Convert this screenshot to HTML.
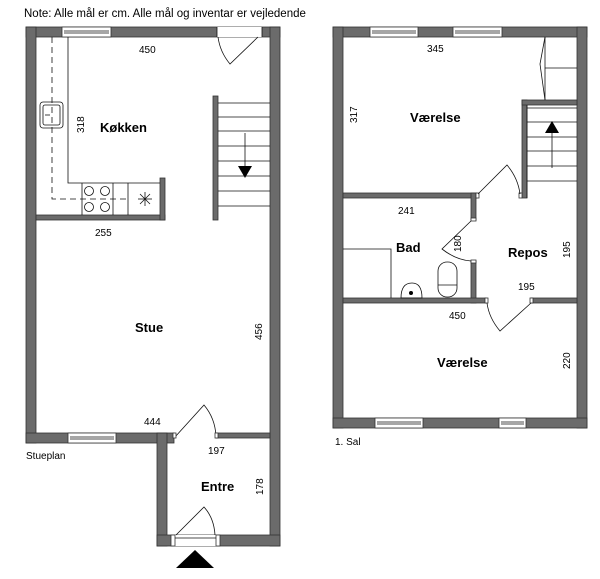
<!DOCTYPE html>
<html><head><meta charset="utf-8"><style>
html,body{margin:0;padding:0;background:#fff;width:600px;height:579px;overflow:hidden}
svg{display:block}
text{font-family:"Liberation Sans",sans-serif;fill:#000}
.w{fill:#6b6b6b;stroke:#333;stroke-width:0.8}
.l{stroke:#111;stroke-width:0.8;fill:none}
.win{fill:#fff;stroke:#333;stroke-width:0.8}
.b{font-weight:bold;font-size:13px}
.s{font-size:10px}
</style></head><body>
<svg width="600" height="579" viewBox="0 0 600 579" xmlns="http://www.w3.org/2000/svg">
<text x="24" y="17" font-size="11.5">Note: Alle mål er cm. Alle mål og inventar er vejledende</text>

<!-- LEFT PLAN walls -->
<rect class="w" x="26" y="27" width="254" height="10"/>
<rect class="w" x="26" y="27" width="10" height="416"/>
<rect class="w" x="270" y="27" width="10" height="519"/>
<rect class="w" x="26" y="433" width="148" height="10"/>
<rect class="w" x="157" y="433" width="10" height="113"/>
<rect class="w" x="157" y="535" width="123" height="11"/>
<rect class="w" x="216" y="433" width="54" height="5"/>
<!-- top window -->
<rect class="win" x="62" y="27" width="49" height="10"/><line class="l" x1="64" y1="31" x2="109" y2="31"/><line class="l" x1="64" y1="33" x2="109" y2="33"/>
<!-- top door opening -->
<rect x="217" y="27" width="45" height="10" fill="#fff"/>
<line class="l" x1="217" y1="27" x2="217" y2="37"/><line class="l" x1="262" y1="27" x2="262" y2="37"/>
<path class="l" d="M258 37 L230 64 Q220 52 218 37"/>
<!-- bottom stue window -->
<rect class="win" x="68" y="433" width="48" height="10"/><line class="l" x1="70" y1="437" x2="114" y2="437"/><line class="l" x1="70" y1="439" x2="114" y2="439"/>
<!-- entre door -->
<rect x="174" y="433" width="42" height="5" fill="#fff"/>
<path class="l" d="M175 437 L204 405 Q215 418 216 436"/>
<rect class="win" x="173" y="433" width="3" height="5"/><rect class="win" x="215" y="433" width="3" height="5"/>
<!-- front door -->
<rect x="173" y="535" width="45" height="11" fill="#fff"/>
<rect class="win" x="171" y="535" width="4" height="11"/><rect class="win" x="216" y="535" width="4" height="11"/>
<line class="l" x1="175" y1="538" x2="216" y2="538"/>
<path class="l" d="M176 535 L204 507 Q214 518 215 535"/>
<polygon points="176,568 214,568 195,550" fill="#000"/>
<!-- kitchen walls -->
<rect class="w" x="36" y="215" width="129" height="5"/>
<rect class="w" x="160" y="178" width="5" height="42"/>
<rect class="w" x="213" y="96" width="5" height="124"/>
<!-- counters -->
<path class="l" d="M68 37 V183 H160"/>
<path class="l" d="M52 37 V199 H128" stroke-dasharray="6,4"/>
<rect class="l" x="40" y="102" width="23" height="26" rx="3"/><rect class="l" x="43" y="105" width="17" height="20" rx="2"/>
<line class="l" x1="45" y1="115" x2="50" y2="115"/>
<line class="l" x1="82" y1="183" x2="82" y2="215"/><line class="l" x1="113" y1="183" x2="113" y2="215"/><line class="l" x1="128" y1="183" x2="128" y2="215"/>
<circle class="l" cx="89" cy="191" r="4.5"/><circle class="l" cx="105" cy="191" r="4.5"/><circle class="l" cx="89" cy="207" r="4.5"/><circle class="l" cx="105" cy="207" r="4.5"/>
<g class="l"><line x1="138" y1="199" x2="152" y2="199"/><line x1="145" y1="192" x2="145" y2="206"/><line x1="140" y1="194" x2="150" y2="204"/><line x1="150" y1="194" x2="140" y2="204"/></g>
<!-- stairs left -->
<g class="l"><line x1="218" y1="103" x2="270" y2="103"/><line x1="218" y1="117" x2="270" y2="117"/><line x1="218" y1="131" x2="270" y2="131"/><line x1="218" y1="146" x2="270" y2="146"/><line x1="218" y1="161" x2="270" y2="161"/><line x1="218" y1="176" x2="270" y2="176"/><line x1="218" y1="191" x2="270" y2="191"/><line x1="218" y1="206" x2="270" y2="206"/><line x1="245" y1="133" x2="245" y2="168"/></g>
<polygon points="238,166 252,166 245,178" fill="#000"/>
<!-- left labels -->
<text x="139" y="53" class="s">450</text>
<text class="b" x="100" y="132">Køkken</text>
<text class="s" transform="translate(84,133) rotate(-90)">318</text>
<text class="s" x="95" y="236">255</text>
<text class="b" x="135" y="332">Stue</text>
<text class="s" transform="translate(262,340) rotate(-90)">456</text>
<text class="s" x="144" y="425">444</text>
<text class="s" x="208" y="454">197</text>
<text class="b" x="201" y="491">Entre</text>
<text class="s" transform="translate(263,495) rotate(-90)">178</text>
<text class="s" x="26" y="459">Stueplan</text>

<!-- RIGHT PLAN walls -->
<rect class="w" x="333" y="27" width="254" height="10"/>
<rect class="w" x="333" y="27" width="10" height="401"/>
<rect class="w" x="577" y="27" width="10" height="401"/>
<rect class="w" x="333" y="418" width="254" height="10"/>
<rect class="win" x="370" y="27" width="48" height="10"/><line class="l" x1="372" y1="31" x2="416" y2="31"/><line class="l" x1="372" y1="33" x2="416" y2="33"/>
<rect class="win" x="453" y="27" width="49" height="10"/><line class="l" x1="455" y1="31" x2="500" y2="31"/><line class="l" x1="455" y1="33" x2="500" y2="33"/>
<rect class="win" x="375" y="418" width="48" height="10"/><line class="l" x1="377" y1="422" x2="421" y2="422"/><line class="l" x1="377" y1="424" x2="421" y2="424"/>
<rect class="win" x="499" y="418" width="27" height="10"/><line class="l" x1="501" y1="422" x2="524" y2="422"/><line class="l" x1="501" y1="424" x2="524" y2="424"/>
<!-- interior -->
<rect class="w" x="343" y="193" width="134" height="5"/>
<rect class="w" x="471" y="193" width="5" height="27"/>
<rect class="w" x="471" y="261" width="5" height="42"/>
<rect class="w" x="343" y="298" width="143" height="5"/>
<rect class="w" x="531" y="298" width="46" height="5"/>
<rect class="w" x="522" y="100" width="5" height="98"/>
<rect class="w" x="522" y="100" width="55" height="5"/>
<rect class="win" x="476" y="193" width="3" height="5"/><rect class="win" x="519" y="193" width="3" height="5"/>
<rect class="win" x="471" y="218" width="5" height="3"/><rect class="win" x="471" y="260" width="5" height="3"/>
<rect class="win" x="485" y="298" width="3" height="5"/><rect class="win" x="530" y="298" width="3" height="5"/>
<!-- doors -->
<path class="l" d="M478 194 L507 165 Q518 178 520 194"/>
<path class="l" d="M471 221 L442 249 Q456 260 471 261"/>
<path class="l" d="M531 303 L500 331 Q489 318 487 303"/>
<!-- closet -->
<line class="l" x1="545" y1="37" x2="545" y2="100"/><line class="l" x1="545" y1="68" x2="577" y2="68"/>
<path class="l" d="M545 37 L540 64 L545 100"/>
<!-- stairs right -->
<g class="l"><line x1="527" y1="108" x2="577" y2="108"/><line x1="527" y1="122" x2="577" y2="122"/><line x1="527" y1="137" x2="577" y2="137"/><line x1="527" y1="151" x2="577" y2="151"/><line x1="527" y1="166" x2="577" y2="166"/><line x1="527" y1="181" x2="577" y2="181"/><line x1="552" y1="132" x2="552" y2="168"/><line x1="527" y1="105" x2="527" y2="198"/></g>
<polygon points="545,133 559,133 552,121" fill="#000"/>
<!-- bath fixtures -->
<path class="l" d="M343 249 H391 V298"/>
<path class="l" d="M401 298 Q401 283 412 283 Q422 283 422 298 Z"/><circle cx="411" cy="293" r="2" fill="#000"/>
<rect class="l" x="438" y="262" width="19" height="35" rx="9"/><line class="l" x1="438" y1="285" x2="457" y2="285"/>
<!-- right labels -->
<text class="s" x="427" y="52">345</text>
<text class="b" x="410" y="122">Værelse</text>
<text class="s" transform="translate(357,123) rotate(-90)">317</text>
<text class="s" x="398" y="214">241</text>
<text class="b" x="396" y="252">Bad</text>
<text class="s" transform="translate(461,252) rotate(-90)">180</text>
<text class="b" x="508" y="257">Repos</text>
<text class="s" transform="translate(570,258) rotate(-90)">195</text>
<text class="s" x="518" y="290">195</text>
<text class="s" x="449" y="319">450</text>
<text class="b" x="437" y="367">Værelse</text>
<text class="s" transform="translate(570,369) rotate(-90)">220</text>
<text class="s" x="335" y="445">1. Sal</text>
</svg>
</body></html>
